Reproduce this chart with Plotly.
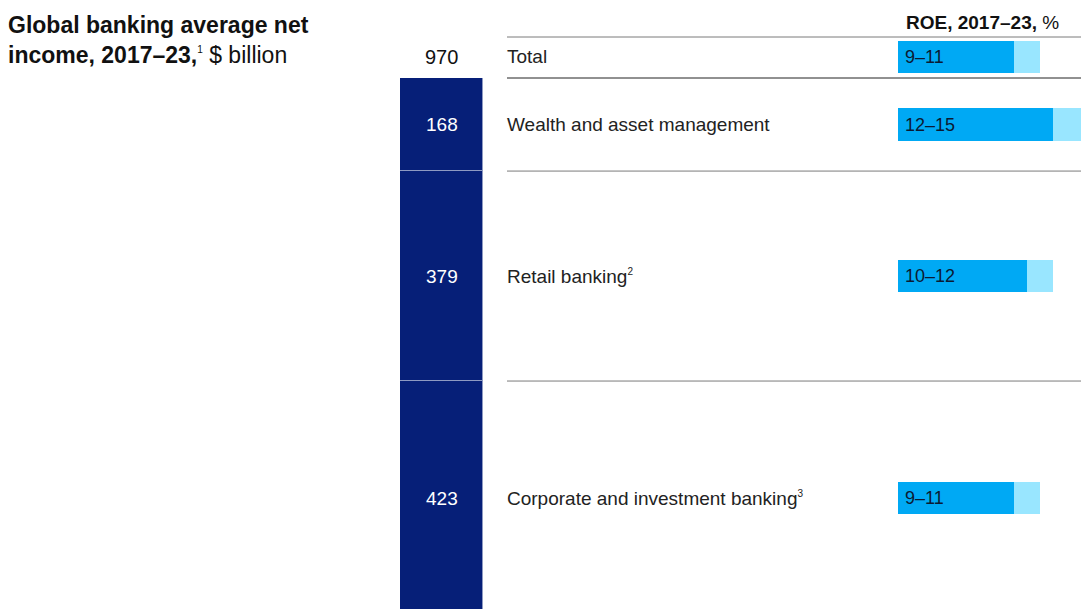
import plotly.graph_objects as go

# net income by segment, $ billion (stack order: bottom to top)
segments = ["Corporate and investment banking", "Retail banking", "Wealth and asset management"]
notes = ["3", "2", ""]
income = [423, 379, 168]
total_income = 970

# ROE range, %
roe_low = [9, 10, 12]
roe_high = [11, 12, 15]
total_roe_low = 9
total_roe_high = 11

NAVY = "#061f78"
CYAN = "#00a9f4"
LIGHT = "#99e6ff"
FONT = "Liberation Sans"
W, H = 1081, 609


def sup(n):
    return f"<sup><span style='font-size:10px'>{n}</span></sup>" if n else ""


# pixel scale of the stacked column (px per $ billion)
k = 0.554
top_px = 78
y_top = total_income + top_px / k
y_bot = total_income - (H - top_px) / k
total_row = total_income + 38
header_line = total_income + 74

fig = go.Figure()

# row centres from stacked segments
mids = []
base = 0
for v in income:
    mids.append(base + v / 2)
    base += v

for v in income:
    fig.add_trace(go.Bar(x=[0], y=[v], width=1, marker_color=NAVY,
                         marker_line=dict(color="rgba(255,255,255,0.55)", width=1),
                         hoverinfo="skip", xaxis="x", yaxis="y"))

rows_y = [total_row] + mids
lows = [total_roe_low] + roe_low
highs = [total_roe_high] + roe_high
fig.add_trace(go.Bar(y=rows_y, x=lows, orientation="h", width=58,
                     marker_color=CYAN, marker_line_width=0,
                     xaxis="x2", yaxis="y", hoverinfo="skip"))
fig.add_trace(go.Bar(y=rows_y, x=[h - l for h, l in zip(highs, lows)], orientation="h", width=58,
                     marker_color=LIGHT, marker_line_width=0,
                     xaxis="x2", yaxis="y", hoverinfo="skip"))

ann = []
# title
ann.append(dict(x=6 / W, y=1 - 10 / H, xref="paper", yref="paper", xanchor="left", yanchor="top",
                align="left", showarrow=False,
                text="<b>Global banking average net</b><br><b>income, 2017–23,</b>" + sup("1") + " $ billion",
                font=dict(family=FONT, size=23, color="#111")))
# ROE header
ann.append(dict(x=1061 / W, y=total_row, xref="paper", yref="y", yshift=34, xanchor="right", yanchor="middle",
                showarrow=False, text="<b>ROE, 2017–23,</b> %",
                font=dict(family=FONT, size=19, color="#111")))
# total
ann.append(dict(x=0, y=total_row, xref="x", yref="y", showarrow=False, text=str(total_income),
                font=dict(family=FONT, size=20, color="#111")))
ann.append(dict(x=505 / W, y=total_row, xref="paper", yref="y", xanchor="left", showarrow=False,
                text="Total", font=dict(family=FONT, size=19, color="#222")))
for seg, n, v, m in zip(segments, notes, income, mids):
    ann.append(dict(x=0, y=m, xref="x", yref="y", showarrow=False, text=str(v),
                    font=dict(family=FONT, size=19, color="white")))
    ann.append(dict(x=505 / W, y=m, xref="paper", yref="y", xanchor="left", showarrow=False,
                    text=seg + sup(n), font=dict(family=FONT, size=19, color="#222")))
for yv, lo, hi in zip(rows_y, lows, highs):
    ann.append(dict(x=0, y=yv, xref="x2", yref="y", xanchor="left", xshift=5, showarrow=False,
                    text=f"{lo}–{hi}", font=dict(family=FONT, size=18, color="#0b1a33")))

shapes = []
line_ys = [(header_line, "#7a7a7a"), (total_income, "#222"),
           (income[0] + income[1], "#7a7a7a"), (income[0], "#7a7a7a")]
for yv, c in line_ys:
    shapes.append(dict(type="line", xref="paper", yref="y", x0=507 / W, x1=1, y0=yv, y1=yv,
                       line=dict(color=c, width=1), layer="below"))

fig.update_layout(
    width=W, height=H, margin=dict(l=0, r=0, t=0, b=0),
    paper_bgcolor="white", plot_bgcolor="white",
    barmode="stack", bargap=0, showlegend=False,
    xaxis=dict(domain=[400 / W, 483 / W], range=[-0.5, 0.5], visible=False, fixedrange=True),
    xaxis2=dict(domain=[898 / W, 1], range=[0, 183 / 12.9], visible=False, anchor="y"),
    yaxis=dict(range=[y_bot, y_top], visible=False),
    annotations=ann, shapes=shapes,
)

fig.write_html("out.html", config={"displayModeBar": False},
               post_script="document.body.style.margin='0';")
